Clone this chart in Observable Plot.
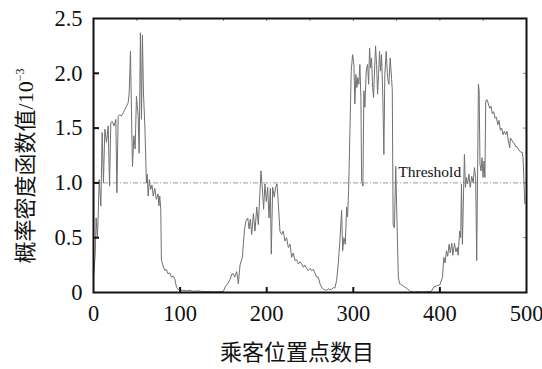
<!DOCTYPE html>
<html><head><meta charset="utf-8">
<script src="https://cdn.jsdelivr.net/npm/d3@7"></script>
<script src="https://cdn.jsdelivr.net/npm/@observablehq/plot@0.6"></script>
<style>body{margin:0;background:#fff}</style>
</head><body><div id="chart"></div>
<script>
// passenger position index
const posX = [0.5,2,3,4.5,5.4,6.6,8.5,10,11.5,13.1,15,17,18.5,20,21.6,23.9,25.8,27,28.5,30.4,32.3,34.3,36.2,38.1,40,41.2,42.7,43.8,45,46.6,48.1,49.6,51.6,52.7,54.2,55.4,56.5,57.7,59.3,61.1,62,63.1,64.5,66,67.5,69,70.8,72.5,74.6,75.5,76.5,77.7,78.4,80,82.3,84,86.2,88,90,92,94,95.8,97.5,99.7,103,107,111,115,120,125,130,135,140,145,150,152,155,157.7,160,161.6,163,165.4,167.3,169.2,171.9,174.2,175.8,178.1,179.7,181.1,182.7,184.6,186.5,188.5,190.3,192.3,193.4,194.9,196.4,198,199.6,201.1,202.7,204.2,205.3,206.9,208.8,210.3,211.9,213.5,215.3,217.2,219.1,221.1,223,225,227,228.8,230.7,232.7,234.6,236.5,238.5,240.4,242.3,244,246.1,248,250,251.9,254,256,257.7,259.6,261.5,263.4,265.3,267,269.2,271,273,275,277,278.8,280.7,282.6,284.5,286.5,287.7,289.2,290.7,292.3,293.4,294.6,296.1,297.6,299.2,300.7,301.8,303,304.1,305.3,306.4,307.6,308.8,309.6,311.1,312.2,313.4,314.9,316.5,317.7,318.8,320,321.1,322.3,323.4,324.5,325.7,326.9,328,329.2,330.3,331.5,332.6,334.1,335.3,336.4,338,339.6,341.1,342.6,344.2,345,346,347.5,349,350,352,353.5,356,359.5,363,366,370,375,380,385,390,393,396,400,403,404.5,406,407.6,409,410.6,412,413.7,415,416.8,418.5,420,421,422.9,424,424.9,426,427.2,428.3,429.5,430.6,432,433.5,435,436.8,438.5,439.9,441.3,442.5,443.7,444.5,445.3,446.3,447.5,448.7,449.8,451,452,452.9,454.5,456,457.5,459,460.5,462.2,463.7,465.3,466.8,468.3,469.8,471.4,472.9,474.4,476,477.5,478.5,480.6,481.4,483,484.4,486,487.5,489,490.6,492,493.7,495,496,497,498];
// probability density value (x10^-3)
const pdfVal = [0.18,0.35,0.68,0.5,0.70,1.03,0.79,1.46,1.00,1.49,1.37,1.52,0.97,1.55,1.56,1.52,1.58,0.91,1.61,1.62,1.61,1.64,1.67,1.70,1.73,1.82,2.20,1.67,1.15,1.43,1.31,1.79,1.61,1.27,2.37,1.58,2.35,1.82,1.52,1.00,1.08,0.88,1.03,0.94,0.98,0.88,0.95,0.85,0.90,0.79,0.88,0.76,0.30,0.25,0.20,0.21,0.17,0.18,0.14,0.15,0.12,0.05,0.03,0.02,0.02,0.015,0.02,0.01,0.015,0.01,0.008,0.01,0.005,0.008,0.01,0.05,0.08,0.12,0.17,0.17,0.14,0.19,0.08,0.25,0.32,0.56,0.65,0.68,0.58,0.67,0.53,0.72,0.56,0.78,0.62,0.93,1.11,0.96,0.76,0.99,0.83,0.96,0.68,0.95,0.35,0.96,0.87,0.96,0.99,0.80,0.56,0.53,0.56,0.47,0.50,0.41,0.44,0.32,0.36,0.29,0.30,0.26,0.28,0.26,0.23,0.25,0.22,0.20,0.22,0.20,0.21,0.17,0.14,0.14,0.08,0.05,0.03,0.025,0.02,0.035,0.025,0.03,0.045,0.04,0.11,0.26,0.47,0.75,0.38,0.50,0.44,0.78,0.69,0.93,1.47,2.02,2.17,2.08,1.72,1.99,1.87,1.96,1.90,2.08,1.78,1.02,0.97,1.84,1.69,2.02,2.08,1.90,2.23,2.05,2.14,1.87,1.78,2.02,2.25,2.08,1.81,1.99,2.20,2.02,2.17,1.78,1.26,1.99,2.20,1.96,1.90,2.14,1.95,1.85,0.62,0.59,1.15,0.81,0.14,0.08,0.07,0.05,0.03,0.01,0.005,0.008,0.005,0.008,0.01,0.05,0.06,0.07,0.14,0.32,0.27,0.38,0.33,0.44,0.36,0.45,0.34,0.45,0.37,0.41,0.34,0.56,0.50,0.99,0.44,0.87,1.26,0.96,1.05,0.99,1.08,0.96,1.06,1.00,1.14,1.05,0.29,1.23,1.90,1.84,1.17,1.11,1.23,1.05,1.20,1.05,1.75,1.76,1.72,1.68,1.70,1.63,1.65,1.59,1.60,1.53,1.57,1.48,1.50,1.44,1.47,1.44,1.47,1.41,1.32,1.41,1.39,1.37,1.36,1.33,1.33,1.31,1.29,1.28,1.28,1.23,1.03,0.81];
const xTicks = [0,100,200,300,400,500];
const xTickLabels = ["0","100","200","300","400","500"];
const xMinorTicks = [50,100,150,200,250,300,350,400,450];
const yTicks = [0,0.5,1.0,1.5,2.0,2.5];
const yTickLabels = ["0","0.5","1.0","1.5","2.0","2.5"];
const threshold = [1.0];
const thresholdLabel = "Threshold";
const xTitle = "乘客位置点数目";
const yTitle = "概率密度函数值/10";
const yTitleExp = "−3";

const data = posX.map((x, i) => ({x, y: pdfVal[i]}));
const W = 542, H = 369, mL = 93, mR = 16, mT = 18, mB = 77;
const innerW = W - mL - mR, innerH = H - mT - mB;
const xLab = new Map(xTicks.map((t, i) => [t, xTickLabels[i]]));
const yLab = new Map(yTicks.map((t, i) => [t, yTickLabels[i]]));
const serif = "'Liberation Serif', 'Times New Roman', 'Noto Sans CJK SC', serif";

const chart = Plot.plot({
  width: W, height: H,
  marginLeft: mL, marginRight: mR, marginTop: mT, marginBottom: mB,
  style: {fontSize: "22.5px", color: "#111", background: "#fff", overflow: "visible"},
  x: {domain: [0, 500]},
  y: {domain: [0, 2.5]},
  marks: [
    Plot.ruleY(threshold, {y: d => d, stroke: "#9c9c9c", strokeWidth: 1, strokeDasharray: "5,2,1,2"}),
    Plot.line(data, {x: "x", y: "y", stroke: "#707070", strokeWidth: 1}),
    Plot.text([thresholdLabel], {x: 352, y: 1.05, text: d => d, textAnchor: "start", lineAnchor: "bottom", fontSize: 15.5, fill: "#111"}),
    Plot.ruleX(xTicks.slice(1, -1), {x: d => d, insetTop: innerH - 5, stroke: "#111", strokeWidth: 2}),
    Plot.ruleX(xMinorTicks, {x: d => d, insetBottom: innerH - 3, stroke: "#888", strokeWidth: 1}),
    Plot.ruleY(yTicks.slice(1, -1), {y: d => d, insetRight: innerW - 6, stroke: "#111", strokeWidth: 2}),
    Plot.ruleY(yTicks.slice(1, -1), {y: d => d, insetLeft: innerW - 3, stroke: "#888", strokeWidth: 1}),
    Plot.axisX(xTicks, {tickSize: 0, tickPadding: 13, label: null, tickFormat: d => xLab.get(d)}),
    Plot.axisY(yTicks, {tickSize: 0, tickPadding: 11, label: null, tickFormat: d => yLab.get(d)}),
    Plot.frame({stroke: "#111", strokeWidth: 2})
  ]
});
document.getElementById("chart").appendChild(chart);

const svg = d3.select(chart);
svg.append("text")
  .attr("x", 297).attr("y", 360)
  .attr("text-anchor", "middle")
  .attr("font-size", 22).attr("fill", "#111")
  .text(xTitle);
const yt = svg.append("text")
  .attr("transform", "translate(33,166) rotate(-90)")
  .attr("text-anchor", "middle")
  .attr("font-size", 22).attr("fill", "#111");
yt.append("tspan").text(yTitle);
yt.append("tspan").attr("dy", -9).attr("font-size", 12).text(yTitleExp);
svg.style("font-family", serif);
svg.selectAll("g, text, tspan").style("font-family", serif).style("font-variant", "normal");
</script>
</body></html>
